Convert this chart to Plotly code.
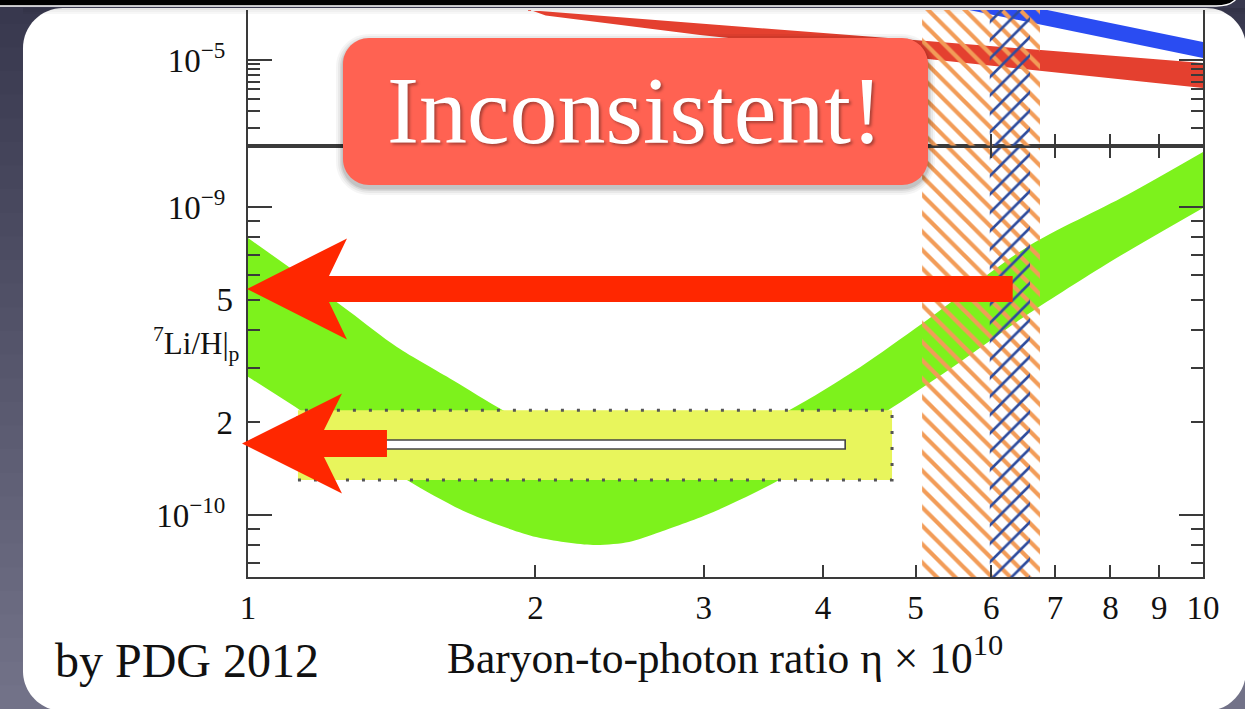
import numpy as np
import plotly.graph_objects as go

W, H = 1245, 709

# ---------------- data ----------------
# 7Li/H band (lower panel): upper and lower edges
li_eta_hi = [1.0, 1.134, 1.279, 1.432, 1.639, 1.849, 2.122, 2.573, 3.12, 3.686, 4.374, 5.09, 6.545, 8.325, 10.0]
li_hi = [7.93e-10, 6.01e-10, 4.56e-10, 3.51e-10, 2.74e-10, 2.19e-10, 1.75e-10, 1.566e-10,
         1.75e-10, 2.19e-10, 3.02e-10, 4.20e-10, 7.42e-10, 1.094e-9, 1.509e-9]
li_eta_lo = [1.0, 1.134, 1.467, 1.700, 2.003, 2.298, 2.506, 2.681, 3.053, 3.598, 4.736, 5.567, 6.56, 7.99, 10.0]
li_lo = [2.81e-10, 2.19e-10, 1.30e-10, 1.015e-10, 8.48e-11, 7.99e-11, 8.17e-11, 8.74e-11,
         1.015e-10, 1.30e-10, 2.24e-10, 3.14e-10, 4.49e-10, 6.63e-10, 9.93e-10]

# upper panel bands
red_eta_hi = [1.80, 2.022, 5.14, 10.0]
red_hi = [3.50e-5, 3.17e-5, 1.565e-5, 9.32e-6]
red_eta_lo = [1.95, 2.05, 2.974, 5.14, 10.0]
red_lo = [3.40e-5, 2.85e-5, 1.80e-5, 1.024e-5, 5.17e-6]
blue_eta = [5.43, 7.03, 10.0]
blue_hi = [5.21e-5, 3.10e-5, 1.528e-5]
blue_lo = [3.57e-5, 2.13e-5, 1.048e-5]

# observed Li box and inner bar
obs_eta = [1.128, 4.725]
obs_li = [1.30e-10, 2.19e-10]
bar_eta = [1.35, 4.22]
bar_li = [1.637e-10, 1.752e-10]

# hatched eta ranges
orange_eta = [5.08, 6.75]
blue_eta_band = [5.98, 6.59]

# arrows: Li level and eta where shaft starts
arrow_li = [5.42e-10, 1.706e-10]
arrow_eta = [6.32, 1.398]

# ticks
x_ticks = [1, 2, 3, 4, 5, 6, 7, 8, 9, 10]
x_ticktext = [str(v) for v in x_ticks]
low_major = [1e-10, 1e-9]
low_major_text = ["10<sup>\u221210</sup>", "10<sup>\u22129</sup>"]
low_minor = [7e-11, 8e-11, 9e-11, 2e-10, 3e-10, 4e-10, 5e-10, 6e-10, 7e-10, 8e-10, 9e-10]
low_label_vals = [2e-10, 5e-10]
low_label_text = ["2", "5"]
up_major = [1e-5]
up_major_text = ["10<sup>\u22125</sup>"]
up_minor = [2e-6, 3e-6, 4e-6, 5e-6, 6e-6, 7e-6, 8e-6, 9e-6]

# ---------------- layout geometry ----------------
XPX = (248, 1203)
LOW_PX = (577, 145.7)
UP_PX = (145.7, 10)
XR = [0, 1]
LR = [-10.2013, -8.801]
UR = [-5.8772, -4.4882]

def pxx(p): return p / W
def pxy(p): return 1 - p / H

XD = [pxx(XPX[0]), pxx(XPX[1])]
LD = [pxy(LOW_PX[0]), pxy(LOW_PX[1])]
UD = [pxy(UP_PX[0]), pxy(UP_PX[1])]

def ex(eta):
    return XPX[0] + (np.log10(eta) - XR[0]) / (XR[1] - XR[0]) * (XPX[1] - XPX[0])

def ly(v):
    return LOW_PX[0] + (np.log10(v) - LR[0]) / (LR[1] - LR[0]) * (LOW_PX[1] - LOW_PX[0])

FONT = "Liberation Serif, Times New Roman, serif"
AX = "#3a3a3a"
GREEN = "#7DF21C"
YELLOW = "#E8F55C"
RED = "#E4402F"
BLUE = "#2A4CF2"
ORANGE_H = "#F29C58"
BLUE_H = "#2E4C9E"

fig = go.Figure()

# ---- lower panel ----
fig.add_trace(go.Scatter(x=li_eta_lo, y=li_lo, mode="lines", line=dict(width=0, shape="spline", smoothing=0.8),
                         xaxis="x", yaxis="y", showlegend=False, hoverinfo="skip"))
fig.add_trace(go.Scatter(x=li_eta_hi, y=li_hi, mode="lines", line=dict(width=0, shape="spline", smoothing=0.8),
                         fill="tonexty", fillcolor=GREEN, xaxis="x", yaxis="y", showlegend=False, hoverinfo="skip"))
fig.add_trace(go.Scatter(x=[obs_eta[0], obs_eta[1], obs_eta[1], obs_eta[0], obs_eta[0]],
                         y=[obs_li[0], obs_li[0], obs_li[1], obs_li[1], obs_li[0]],
                         mode="lines", fill="toself", fillcolor=YELLOW,
                         line=dict(color="#555555", width=3, dash="3px,13px"),
                         xaxis="x", yaxis="y", showlegend=False, hoverinfo="skip"))
fig.add_trace(go.Scatter(x=[bar_eta[0], bar_eta[1], bar_eta[1], bar_eta[0], bar_eta[0]],
                         y=[bar_li[0], bar_li[0], bar_li[1], bar_li[1], bar_li[0]],
                         mode="lines", fill="toself", fillcolor="white",
                         line=dict(color="#444444", width=1.6),
                         xaxis="x", yaxis="y", showlegend=False, hoverinfo="skip"))

def hatch(xr, yr, xa, ya, shape, color, size, sol):
    fig.add_trace(go.Scatter(x=[xr[0], xr[1], xr[1], xr[0], xr[0]],
                             y=[yr[0], yr[0], yr[1], yr[1], yr[0]],
                             mode="lines", fill="toself", fillcolor="rgba(0,0,0,0)",
                             fillpattern=dict(shape=shape, fgcolor=color, size=size, solidity=sol,
                                              fgopacity=1, bgcolor="rgba(0,0,0,0)"),
                             line=dict(width=0), xaxis=xa, yaxis=ya, showlegend=False, hoverinfo="skip"))

lo_y = [10 ** LR[0], 10 ** LR[1]]
up_y = [10 ** UR[0], 10 ** UR[1]]
hatch(orange_eta, lo_y, "x", "y", "\\", ORANGE_H, 13, 0.32)
hatch(blue_eta_band, lo_y, "x", "y", "/", BLUE_H, 13, 0.2)

# invisible trace so the label-only overlay axis is drawn
fig.add_trace(go.Scatter(x=[1.0], y=[low_label_vals[0]], mode="markers", marker=dict(opacity=0),
                         xaxis="x", yaxis="y3", showlegend=False, hoverinfo="skip"))

# ---- upper panel ----
fig.add_trace(go.Scatter(x=red_eta_hi + red_eta_lo[::-1], y=red_hi + red_lo[::-1], mode="lines", fill="toself",
                         fillcolor=RED, line=dict(width=0), xaxis="x2", yaxis="y2",
                         showlegend=False, hoverinfo="skip"))
fig.add_trace(go.Scatter(x=blue_eta + blue_eta[::-1], y=blue_hi + blue_lo[::-1], mode="lines", fill="toself",
                         fillcolor=BLUE, line=dict(width=0), xaxis="x2", yaxis="y2",
                         showlegend=False, hoverinfo="skip"))
hatch(orange_eta, up_y, "x2", "y2", "\\", ORANGE_H, 13, 0.32)
hatch(blue_eta_band, up_y, "x2", "y2", "/", BLUE_H, 13, 0.2)

# ---------------- decorations ----------------
def P(x, y):
    return f"{pxx(x):.5f},{pxy(y):.5f}"

def rr_path(x0, y0, x1, y1, r):
    k = 0.5523 * r
    return (f"M {P(x0 + r, y0)} L {P(x1 - r, y0)} C {P(x1 - r + k, y0)} {P(x1, y0 + r - k)} {P(x1, y0 + r)} "
            f"L {P(x1, y1 - r)} C {P(x1, y1 - r + k)} {P(x1 - r + k, y1)} {P(x1 - r, y1)} "
            f"L {P(x0 + r, y1)} C {P(x0 + r - k, y1)} {P(x0, y1 - r + k)} {P(x0, y1 - r)} "
            f"L {P(x0, y0 + r)} C {P(x0, y0 + r - k)} {P(x0 + r - k, y0)} {P(x0 + r, y0)} Z")

shapes = []
# background gradient
nb = 30
c0, c1 = np.array([56, 56, 78]), np.array([114, 114, 136])
for i in range(nb):
    c = c0 + (c1 - c0) * i / (nb - 1)
    shapes.append(dict(type="rect", xref="paper", yref="paper", x0=0, x1=1,
                       y0=pxy(H * (i + 1) / nb + 1), y1=pxy(H * i / nb), layer="below",
                       fillcolor=f"rgb({int(c[0])},{int(c[1])},{int(c[2])})", line=dict(width=0)))
# white card
shapes.append(dict(type="path", xref="paper", yref="paper", path=rr_path(23, 8, 1246, 711, 40),
                   fillcolor="white", line=dict(width=0), layer="below"))
# top shadow
for i, a in enumerate([0.10, 0.06, 0.03]):
    shapes.append(dict(type="rect", xref="paper", yref="paper", x0=pxx(23), x1=1,
                       y0=pxy(10 + i * 2), y1=pxy(8 + i * 2), fillcolor=f"rgba(0,0,0,{a})",
                       line=dict(width=0), layer="below"))
# black top bar
bar_path = (f"M {P(-5, -30)} L {P(1240, -30)} L {P(1240, -16)} "
            f"C {P(1240, 0)} {P(1232, 6)} {P(1216, 6)} L {P(-5, 6)} Z")
shapes.append(dict(type="path", xref="paper", yref="paper", path=bar_path,
                   fillcolor="black", line=dict(color="white", width=1.5), layer="above"))

# arrows (positions from data values)
def arrow(tip_x, yc, end_x, head_len=100, half_head=50.5, notch=82, half_shaft=13):
    pts = [(tip_x, yc), (tip_x + head_len, yc - half_head), (tip_x + notch, yc - half_shaft),
           (end_x, yc - half_shaft), (end_x, yc + half_shaft), (tip_x + notch, yc + half_shaft),
           (tip_x + head_len, yc + half_head)]
    return "M " + " L ".join(P(x, y) for x, y in pts) + " Z"

ARROW_RED = "#FF2700"
x_axis_px = ex(1.0)
shapes.append(dict(type="path", xref="paper", yref="paper",
                   path=arrow(x_axis_px - 1, ly(arrow_li[0]), ex(arrow_eta[0])),
                   fillcolor=ARROW_RED, line=dict(width=0), layer="above"))
shapes.append(dict(type="path", xref="paper", yref="paper",
                   path=arrow(x_axis_px - 6, ly(arrow_li[1]), ex(arrow_eta[1]), half_head=50, half_shaft=13.5),
                   fillcolor=ARROW_RED, line=dict(width=0), layer="above"))

# "Inconsistent!" box with shadow
for d, a in [(7, 0.04), (5, 0.05), (3, 0.07), (1.5, 0.09)]:
    shapes.append(dict(type="path", xref="paper", yref="paper",
                       path=rr_path(343 - d, 38 - d + 3, 928 + d, 185 + d + 3, 26 + d),
                       fillcolor=f"rgba(0,0,0,{a})", line=dict(width=0), layer="above"))
shapes.append(dict(type="path", xref="paper", yref="paper", path=rr_path(343, 38, 928, 185, 26),
                   fillcolor="#FF6252", line=dict(width=0), layer="above"))

annotations = [
    dict(text="Inconsistent!", x=pxx(635.5), y=pxy(111), xref="paper", yref="paper",
         xanchor="center", yanchor="middle", showarrow=False,
         font=dict(family=FONT, size=96, color="white", shadow="2px 2px 3px rgba(0,0,0,0.35)")),
    dict(text="<sup>7</sup>Li/H|<sub>p</sub>", x=pxx(241), y=pxy(344), xref="paper", yref="paper",
         xanchor="right", yanchor="middle", showarrow=False,
         font=dict(family=FONT, size=31, color="#111")),
    dict(text="Baryon-to-photon ratio \u03b7 \u00d7 10<sup>10</sup>", x=pxx(725), y=pxy(655),
         xref="paper", yref="paper", xanchor="center", yanchor="middle", showarrow=False,
         font=dict(family=FONT, size=43.5, color="#111")),
    dict(text="by PDG 2012", x=pxx(53), y=pxy(660), xref="paper", yref="paper",
         xanchor="left", yanchor="middle", showarrow=False,
         font=dict(family=FONT, size=48, color="#111")),
]

tickfont = dict(family=FONT, size=33, color="#111")
common_x = dict(type="log", range=XR, domain=XD, showgrid=False, zeroline=False,
                showline=True, linecolor=AX, linewidth=2, ticks="inside", ticklen=12,
                tickwidth=2, tickcolor=AX, tickfont=tickfont, automargin=False)
common_y = dict(type="log", showgrid=False, zeroline=False, showline=True, linecolor=AX,
                linewidth=2, ticks="inside", ticklen=24, tickwidth=2, tickcolor=AX,
                tickfont=tickfont, mirror="ticks", ticklabelstandoff=14, automargin=False,
                minor=dict(ticks="inside", ticklen=12, tickwidth=2, tickcolor=AX, showgrid=False))

fig.update_layout(
    width=W, height=H, autosize=False, margin=dict(l=0, r=0, t=0, b=0, pad=0),
    paper_bgcolor="#55556d", plot_bgcolor="rgba(0,0,0,0)", showlegend=False,
    xaxis=dict(common_x, anchor="y", mirror="ticks", tickmode="array", tickvals=x_ticks,
               ticktext=x_ticktext, ticklabelstandoff=0),
    yaxis=dict(common_y, domain=LD, range=LR, anchor="x", tickmode="array", tickvals=low_major,
               ticktext=low_major_text),
    yaxis3=dict(type="log", domain=LD, range=LR, overlaying="y", anchor="x", side="left",
                showgrid=False, zeroline=False, showline=False, ticks="", tickmode="array",
                tickvals=low_label_vals, ticktext=low_label_text, tickfont=tickfont,
                ticklabelstandoff=14, automargin=False),
    xaxis2=dict(common_x, anchor="y2", mirror=False, tickmode="array", tickvals=x_ticks[1:-1],
                showticklabels=False),
    yaxis2=dict(common_y, domain=UD, range=UR, anchor="x2", tickmode="array", tickvals=up_major,
                ticktext=up_major_text),
    shapes=shapes, annotations=annotations,
)
fig.layout.yaxis.minor.tickvals = low_minor
fig.layout.yaxis2.minor.tickvals = up_minor

fig.write_html(
    "out.html",
    config={"responsive": False, "displayModeBar": False},
    default_width="1245px", default_height="709px",
    post_script="document.body.style.margin='0';document.body.style.padding='0';"
                "document.body.style.overflow='hidden';"
                "document.documentElement.style.overflow='hidden';",
)
